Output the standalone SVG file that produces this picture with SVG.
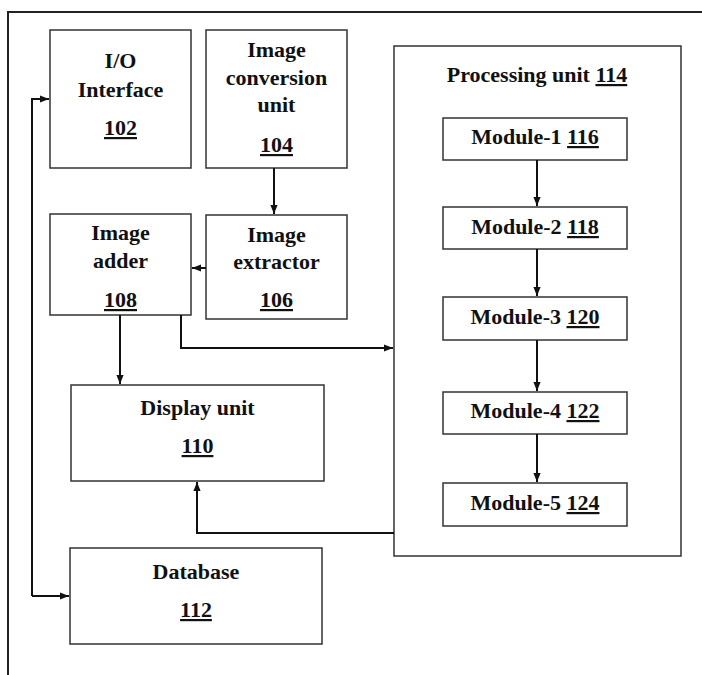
<svg xmlns="http://www.w3.org/2000/svg" width="702" height="675" viewBox="0 0 702 675">
<style>
.box{fill:#fff;stroke:#333;stroke-width:1.5}
.t{font-family:"Liberation Serif","Times New Roman",serif;font-weight:bold;font-size:22px;fill:#111;text-anchor:middle}
.u{text-decoration:underline}
.c{fill:none;stroke:#111;stroke-width:2}
</style>
<defs>
<marker id="ah" viewBox="0 0 10 10" refX="10" refY="5" markerWidth="5" markerHeight="5" orient="auto" markerUnits="userSpaceOnUse">
<path d="M0,0 L10,5 L0,10 z" fill="#111"/>
</marker>
<marker id="a" viewBox="0 0 10 10" refX="10" refY="5" markerWidth="9" markerHeight="9" orient="auto" markerUnits="userSpaceOnUse">
<path d="M0,1 L10,5 L0,9 z" fill="#111"/>
</marker>
</defs>
<rect width="702" height="675" fill="#fff"/>
<path d="M8,675 V12 H702" fill="none" stroke="#222" stroke-width="2"/>
<g id="n102"><rect class="box" x="50" y="30" width="141" height="138"/>
<text class="t" x="120.5" y="68">I/O</text><text class="t" x="120.5" y="97">Interface</text><text class="t u" x="120.5" y="135">102</text></g>
<g id="n104"><rect class="box" x="206" y="30" width="141" height="138"/>
<text class="t" x="276.5" y="57">Image</text><text class="t" x="276.5" y="85">conversion</text><text class="t" x="276.5" y="112">unit</text><text class="t u" x="276.5" y="152">104</text></g>
<g id="n108"><rect class="box" x="50" y="214" width="141" height="101"/>
<text class="t" x="120.5" y="240">Image</text><text class="t" x="120.5" y="268">adder</text><text class="t u" x="120.5" y="307">108</text></g>
<g id="n106"><rect class="box" x="206" y="215" width="141" height="104"/>
<text class="t" x="276.5" y="242">Image</text><text class="t" x="276.5" y="269">extractor</text><text class="t u" x="276.5" y="307">106</text></g>
<g id="n110"><rect class="box" x="71" y="385" width="253" height="96"/>
<text class="t" x="197.5" y="415">Display unit</text><text class="t u" x="197.5" y="453">110</text></g>
<g id="n112"><rect class="box" x="70" y="548" width="252" height="96"/>
<text class="t" x="196" y="579">Database</text><text class="t u" x="196" y="617">112</text></g>
<g id="n114"><rect class="box" x="394" y="46" width="287" height="510" stroke-width="2"/>
<text class="t" x="537" y="82">Processing unit <tspan class="u">114</tspan></text></g>
<g id="n116"><rect class="box" x="443" y="118" width="184" height="42"/><text class="t" x="535" y="144">Module-1 <tspan class="u">116</tspan></text></g>
<g id="n118"><rect class="box" x="443" y="207" width="184" height="42"/><text class="t" x="535" y="234">Module-2 <tspan class="u">118</tspan></text></g>
<g id="n120"><rect class="box" x="443" y="297" width="184" height="43"/><text class="t" x="535" y="324">Module-3 <tspan class="u">120</tspan></text></g>
<g id="n122"><rect class="box" x="443" y="392" width="184" height="42"/><text class="t" x="535" y="418">Module-4 <tspan class="u">122</tspan></text></g>
<g id="n124"><rect class="box" x="443" y="483" width="184" height="43"/><text class="t" x="535" y="510">Module-5 <tspan class="u">124</tspan></text></g>
<g id="connectors">
<path class="c" d="M32,596 V99 H49" marker-end="url(#a)"/>
<path class="c" d="M32,596 H69" marker-end="url(#a)"/>
<path class="c" d="M274,168 V214" marker-end="url(#a)"/>
<path class="c" d="M206,268 H192" marker-end="url(#a)"/>
<path class="c" d="M120,315 V384" marker-end="url(#a)"/>
<path class="c" d="M181,315 V348 H393" marker-end="url(#a)"/>
<path class="c" d="M394,533 H197 V482" marker-end="url(#a)"/>
<path class="c" d="M537,160 V206" marker-end="url(#a)"/>
<path class="c" d="M537,249 V296" marker-end="url(#a)"/>
<path class="c" d="M537,340 V391" marker-end="url(#a)"/>
<path class="c" d="M537,434 V482" marker-end="url(#a)"/>
</g>
</svg>
